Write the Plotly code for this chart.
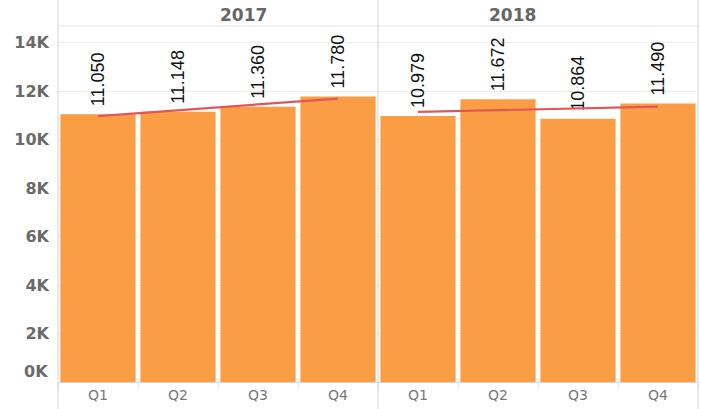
import plotly.graph_objects as go
from plotly.subplots import make_subplots
import numpy as np

years = ["2017", "2018"]
quarters = ["Q1", "Q2", "Q3", "Q4"]
sales_2017 = [11050, 11148, 11360, 11780]
sales_2018 = [10979, 11672, 10864, 11490]
tick_vals = [0, 2000, 4000, 6000, 8000, 10000, 12000, 14000]
tick_text = ["0K", "2K", "4K", "6K", "8K", "10K", "12K", "14K"]

BAR = "#FA9D45"
TREND = "#E15759"
GRID = "#EDEDED"
AX = "#D4D4D4"
DV = "DejaVu Sans, Verdana"

fig = make_subplots(rows=1, cols=2, shared_yaxes=True, horizontal_spacing=0)

for i, vals in enumerate([sales_2017, sales_2018]):
    col = i + 1
    fig.add_trace(go.Bar(
        x=quarters, y=vals, marker_color=BAR, marker_line_width=0,
        text=["\u00a0" + f"{v:,}".replace(",", ".") for v in vals],
        textposition="outside", textangle=-90, constraintext="none",
        textfont=dict(family="Liberation Sans, Arial", size=18, color="#111"),
        cliponaxis=False, showlegend=False, hoverinfo="skip",
    ), row=1, col=col)
    xs = np.arange(4)
    slope, intercept = np.polyfit(xs, vals, 1)
    fig.add_trace(go.Scatter(
        x=quarters, y=list(intercept + slope * xs), mode="lines",
        line=dict(color=TREND, width=2.2), showlegend=False, hoverinfo="skip",
    ), row=1, col=col)

for col in (1, 2):
    fig.update_xaxes(
        row=1, col=col, range=[-0.5, 3.5], tickson="boundaries", ticks="outside",
        ticklen=6, tickcolor="#E6E6E6", showline=True, linecolor=AX, linewidth=1,
        showgrid=False, automargin=False,
        tickfont=dict(family=DV, size=14, color="#777777"),
    )
fig.update_yaxes(
    range=[0, 14690], tickvals=tick_vals,
    ticktext=[""] + tick_text[1:], showgrid=True, gridcolor=GRID, gridwidth=1,
    zeroline=False, showline=False, automargin=False,
    tickfont=dict(family=DV, size=16, color="#6A6A6A", weight="bold"),
    ticks="", ticklabelstandoff=8,
)

fig.update_layout(
    width=701, height=409,
    margin=dict(l=58, r=3, t=26, b=27),
    plot_bgcolor="white", paper_bgcolor="white",
    bargap=0.06,
    font=dict(family=DV),
)

top = 1 + 26 / 356
for i, yr in enumerate(years):
    fig.add_annotation(text=yr, xref="paper", yref="paper", x=0.25 + 0.5 * i, y=1,
                       yanchor="bottom", yshift=-1, showarrow=False,
                       font=dict(family=DV, size=17, color="#666666", weight="bold"))
fig.add_annotation(text="0K", xref="paper", yref="y", x=0, y=0, xanchor="right",
                   xshift=-8, yshift=11, showarrow=False,
                   font=dict(family=DV, size=16, color="#6A6A6A", weight="bold"))
fig.add_shape(type="line", xref="paper", yref="paper", x0=0, x1=1, y0=1, y1=1,
              line=dict(color="#E6E6E6", width=1))
for xv in (0, 0.5, 1):
    fig.add_shape(type="line", xref="paper", yref="paper", x0=xv, x1=xv, y0=-27 / 356, y1=top,
                  line=dict(color=AX, width=1))

fig.write_html("out.html", config={"displayModeBar": False},
               post_script="document.body.style.margin='0';document.body.style.overflow='hidden';")
